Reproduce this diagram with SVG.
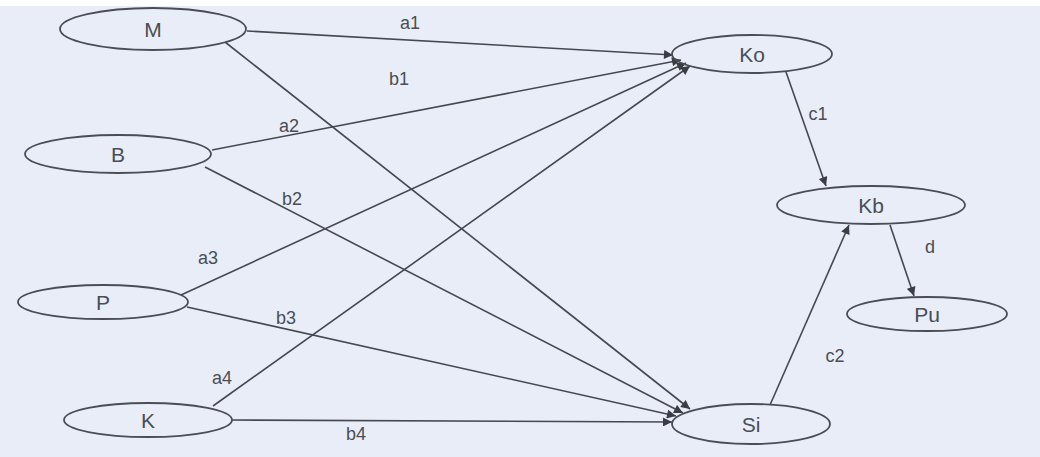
<svg xmlns="http://www.w3.org/2000/svg" width="1040" height="457" viewBox="0 0 1040 457">
<defs>
<marker id="ah" viewBox="0 0 10 10" refX="10" refY="5" markerWidth="11" markerHeight="9" markerUnits="userSpaceOnUse" orient="auto">
<path d="M0,0 L10,5 L0,10 z" fill="#3a3d44"/>
</marker>
<style>
.n ellipse{fill:none;stroke:#4a4d55;stroke-width:1.8}
.n text{font-family:"Liberation Sans",Arial,sans-serif;font-size:21px;fill:#4a4d55;text-anchor:middle}
#edges line{stroke:#45484f;stroke-width:1.6;marker-end:url(#ah)}
.lb{font-family:"Liberation Sans",Arial,sans-serif;font-size:18px;fill:#4a4d55;text-anchor:middle}
</style>
</defs>
<rect x="0" y="0" width="1040" height="457" fill="#e9edf7"/>
<rect x="0" y="0" width="1040" height="6" fill="#ffffff"/>
<g id="edges">
<line x1="247" y1="31" x2="673" y2="55"/>
<line x1="225" y1="42" x2="690" y2="409"/>
<line x1="212" y1="150" x2="681" y2="60"/>
<line x1="205" y1="167" x2="683" y2="413"/>
<line x1="181" y1="295" x2="686" y2="63"/>
<line x1="187" y1="307" x2="676" y2="416"/>
<line x1="213" y1="406" x2="690" y2="66"/>
<line x1="232" y1="420" x2="672" y2="422"/>
<line x1="786" y1="72" x2="826" y2="186"/>
<line x1="770" y1="405" x2="849" y2="225"/>
<line x1="890" y1="225" x2="914" y2="296"/>
</g>
<g id="labels">
<text class="lb" x="410" y="29">a1</text>
<text class="lb" x="399" y="85">b1</text>
<text class="lb" x="289" y="132">a2</text>
<text class="lb" x="292" y="205">b2</text>
<text class="lb" x="208" y="264">a3</text>
<text class="lb" x="286" y="324">b3</text>
<text class="lb" x="222" y="384">a4</text>
<text class="lb" x="356" y="440">b4</text>
<text class="lb" x="818" y="120">c1</text>
<text class="lb" x="835" y="362">c2</text>
<text class="lb" x="930" y="253">d</text>
</g>
<g id="M" class="n"><ellipse cx="153" cy="29" rx="93" ry="21"/><text x="153" y="37">M</text></g>
<g id="B" class="n"><ellipse cx="118" cy="154" rx="93" ry="19"/><text x="118" y="162">B</text></g>
<g id="P" class="n"><ellipse cx="103" cy="302" rx="85" ry="17"/><text x="103" y="310">P</text></g>
<g id="K" class="n"><ellipse cx="148" cy="420" rx="84" ry="17"/><text x="148" y="428">K</text></g>
<g id="Ko" class="n"><ellipse cx="752" cy="54" rx="80" ry="19"/><text x="752" y="62">Ko</text></g>
<g id="Kb" class="n"><ellipse cx="871" cy="205" rx="94" ry="19"/><text x="871" y="213">Kb</text></g>
<g id="Pu" class="n"><ellipse cx="927" cy="314" rx="80" ry="17"/><text x="927" y="322">Pu</text></g>
<g id="Si" class="n"><ellipse cx="751" cy="424" rx="79" ry="20"/><text x="751" y="432">Si</text></g>
</svg>
